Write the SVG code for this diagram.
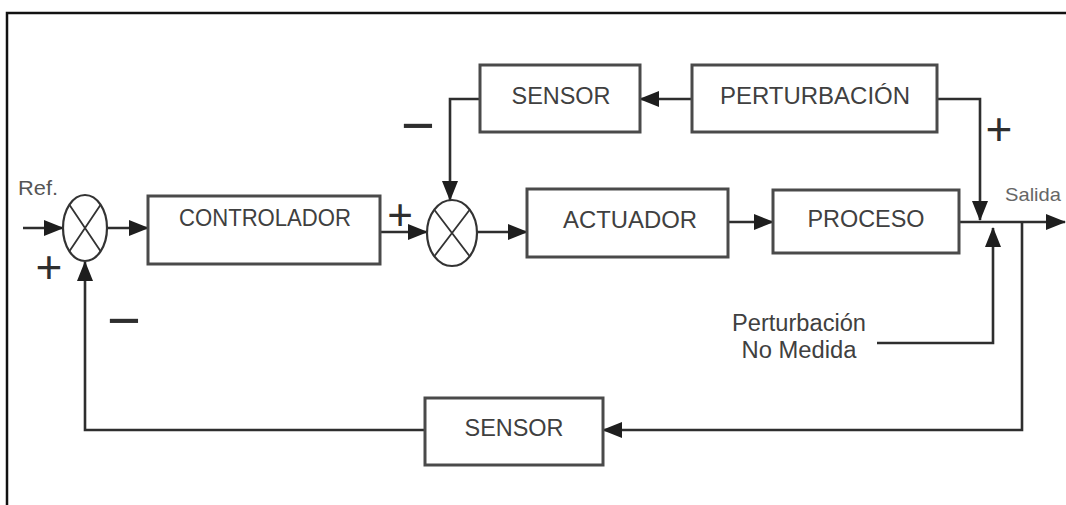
<svg xmlns="http://www.w3.org/2000/svg" width="1066" height="505" viewBox="0 0 1066 505">
  <style>
    .box { fill: #ffffff; stroke: #4a4a4a; stroke-width: 3; }
    .sum { fill: #ffffff; stroke: #333333; stroke-width: 2.2; }
    .cross { stroke: #333333; stroke-width: 1.8; fill: none; }
    .wire { fill: none; stroke: #2e2e2e; stroke-width: 2.6; marker-end: url(#arrow); }
    .label { font-family: "Liberation Sans", Arial, sans-serif; font-size: 23px; fill: #404040; text-anchor: middle; }
    .small { font-family: "Liberation Sans", Arial, sans-serif; }
    .ref { font-size: 21px; fill: #555555; }
    .out { font-size: 19px; fill: #666666; }
    .sign { font-family: "Liberation Sans", Arial, sans-serif; fill: #2e2e2e; text-anchor: middle; }
  </style>
  <defs>
    <marker id="arrow" markerUnits="userSpaceOnUse" markerWidth="20" markerHeight="16" refX="19" refY="8" orient="auto">
      <path d="M0,0 L20,8 L0,16 z" fill="#1e1e1e"/>
    </marker>
  </defs>

  <rect width="1066" height="505" fill="#ffffff"/>
  <!-- frame (top and left edges) -->
  <path d="M7,505 V13 H1066" fill="none" stroke="#111111" stroke-width="2.5"/>

  <!-- connectors -->
  <g id="connectors">
    <path class="wire" d="M23,228 H63"/>
    <path class="wire" d="M107,228 H148"/>
    <path class="wire" d="M380,232 H427"/>
    <path class="wire" d="M477,232 H527"/>
    <path class="wire" d="M728,222 H773"/>
    <path class="wire" d="M959,222 H1065"/>
    <path class="wire" d="M692,99 H640"/>
    <path class="wire" d="M937,99 H980 V220"/>
    <path class="wire" d="M480,99 H450 V200"/>
    <path class="wire" d="M877,343 H993 V228"/>
    <path class="wire" d="M1022,222 V430 H603"/>
    <path class="wire" d="M425,430 H85 V262"/>
  </g>

  <!-- summing junctions -->
  <g id="sum1">
    <ellipse class="sum" cx="85" cy="228" rx="22" ry="33"/>
    <path class="cross" d="M69.4,204.7 L100.6,251.3 M100.6,204.7 L69.4,251.3"/>
  </g>
  <g id="sum2">
    <ellipse class="sum" cx="452" cy="233" rx="25" ry="33"/>
    <path class="cross" d="M434.3,209.7 L469.7,256.3 M469.7,209.7 L434.3,256.3"/>
  </g>

  <!-- blocks -->
  <g id="controlador">
    <rect class="box" x="148" y="196" width="232" height="68"/>
    <text class="label" x="265" y="226" textLength="172" lengthAdjust="spacingAndGlyphs">CONTROLADOR</text>
  </g>
  <g id="actuador">
    <rect class="box" x="527" y="189" width="201" height="68"/>
    <text class="label" x="630" y="228" textLength="134" lengthAdjust="spacingAndGlyphs">ACTUADOR</text>
  </g>
  <g id="proceso">
    <rect class="box" x="773" y="190" width="186" height="63"/>
    <text class="label" x="866" y="227" textLength="117" lengthAdjust="spacingAndGlyphs">PROCESO</text>
  </g>
  <g id="sensor-directo">
    <rect class="box" x="480" y="65" width="160" height="67"/>
    <text class="label" x="561" y="104" textLength="99" lengthAdjust="spacingAndGlyphs">SENSOR</text>
  </g>
  <g id="perturbacion">
    <rect class="box" x="692" y="65" width="245" height="67"/>
    <text class="label" x="815" y="104" textLength="190" lengthAdjust="spacingAndGlyphs">PERTURBACIÓN</text>
  </g>
  <g id="sensor-realimentacion">
    <rect class="box" x="425" y="398" width="178" height="67"/>
    <text class="label" x="514" y="436" textLength="99" lengthAdjust="spacingAndGlyphs">SENSOR</text>
  </g>

  <!-- signal labels -->
  <g id="labels">
    <text class="small ref" x="18" y="195" textLength="40" lengthAdjust="spacingAndGlyphs">Ref.</text>
    <text class="small out" x="1005" y="201" textLength="56" lengthAdjust="spacingAndGlyphs">Salida</text>
    <text class="label" x="799" y="331" textLength="134" lengthAdjust="spacingAndGlyphs">Perturbación</text>
    <text class="label" x="799" y="358" textLength="115" lengthAdjust="spacingAndGlyphs">No Medida</text>
  </g>

  <!-- signs at the junctions -->
  <g id="signs">
    <text class="sign" x="49" y="283" font-size="46">+</text>
    <text class="sign" x="124" y="340" font-size="58">−</text>
    <text class="sign" x="400" y="230" font-size="44">+</text>
    <text class="sign" x="418" y="145" font-size="58">−</text>
    <text class="sign" x="999" y="145" font-size="46">+</text>
  </g>
</svg>
